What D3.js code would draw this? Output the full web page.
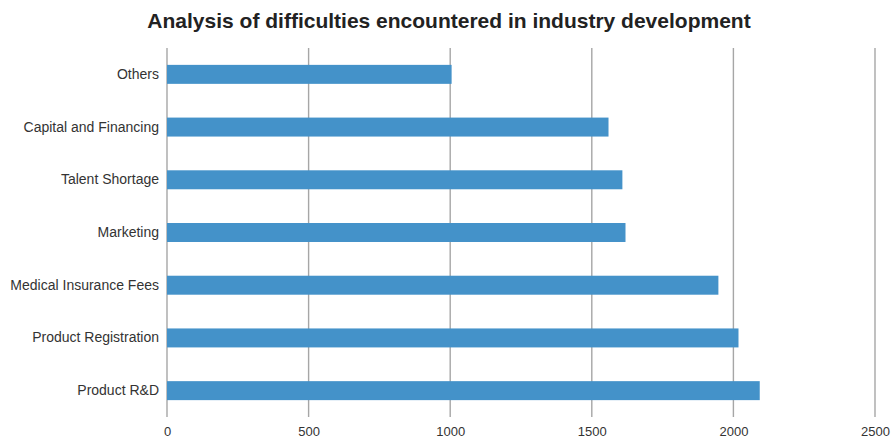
<!DOCTYPE html>
<html>
<head>
<meta charset="utf-8">
<script src="https://cdnjs.cloudflare.com/ajax/libs/d3/7.8.5/d3.min.js"></script>
<style>
  body { margin: 0; background: #fff; }
  text { font-family: "Liberation Sans", Arial, Helvetica, sans-serif; }
</style>
</head>
<body>
<svg id="chart"></svg>
<script>
// data
const categories = ['Others', 'Capital and Financing', 'Talent Shortage', 'Marketing',
  'Medical Insurance Fees', 'Product Registration', 'Product R&D'];
const values = [1005, 1559, 1608, 1619, 1947, 2018, 2093];
const xTicks = [0, 500, 1000, 1500, 2000, 2500];
const title = 'Analysis of difficulties encountered in industry development';

const width = 891;
const height = 438;
const margin = { top: 48, right: 16, bottom: 21, left: 167 };

const svg = d3.select('#chart')
  .attr('width', width)
  .attr('height', height);

const x = d3.scaleLinear()
  .domain([0, 2500])
  .range([margin.left, width - margin.right]);

const y = d3.scaleBand()
  .domain(categories)
  .range([margin.top, height - margin.bottom])
  .paddingInner(0.64)
  .paddingOuter(0.32);

// title
svg.append('text')
  .attr('x', 449)
  .attr('y', 28)
  .attr('text-anchor', 'middle')
  .style('font-size', '21px')
  .style('font-weight', 'bold')
  .style('fill', '#222')
  .text(title);

// vertical grid lines
svg.append('g')
  .selectAll('line')
  .data(xTicks)
  .enter().append('line')
  .attr('x1', d => x(d))
  .attr('x2', d => x(d))
  .attr('y1', margin.top)
  .attr('y2', height - margin.bottom)
  .attr('stroke', '#a6a6a6')
  .attr('stroke-width', 1.4);

// bars
svg.append('g')
  .selectAll('rect')
  .data(values)
  .enter().append('rect')
  .attr('x', x(0))
  .attr('y', (d, i) => y(categories[i]))
  .attr('width', d => x(d) - x(0))
  .attr('height', y.bandwidth())
  .attr('fill', '#4492c9');

// x axis labels
const xAxis = svg.append('g')
  .attr('transform', `translate(0,${height - margin.bottom})`)
  .call(d3.axisBottom(x).tickValues(xTicks).tickFormat(d3.format('d')).tickSize(0).tickPadding(10));
xAxis.select('.domain').remove();
xAxis.selectAll('text')
  .style('font-size', '13px')
  .style('fill', '#333');

// y axis labels
const yAxis = svg.append('g')
  .attr('transform', `translate(${margin.left},0)`)
  .call(d3.axisLeft(y).tickSize(0).tickPadding(8));
yAxis.select('.domain').remove();
yAxis.selectAll('text')
  .style('font-size', '14px')
  .style('fill', '#333');
</script>
</body>
</html>
